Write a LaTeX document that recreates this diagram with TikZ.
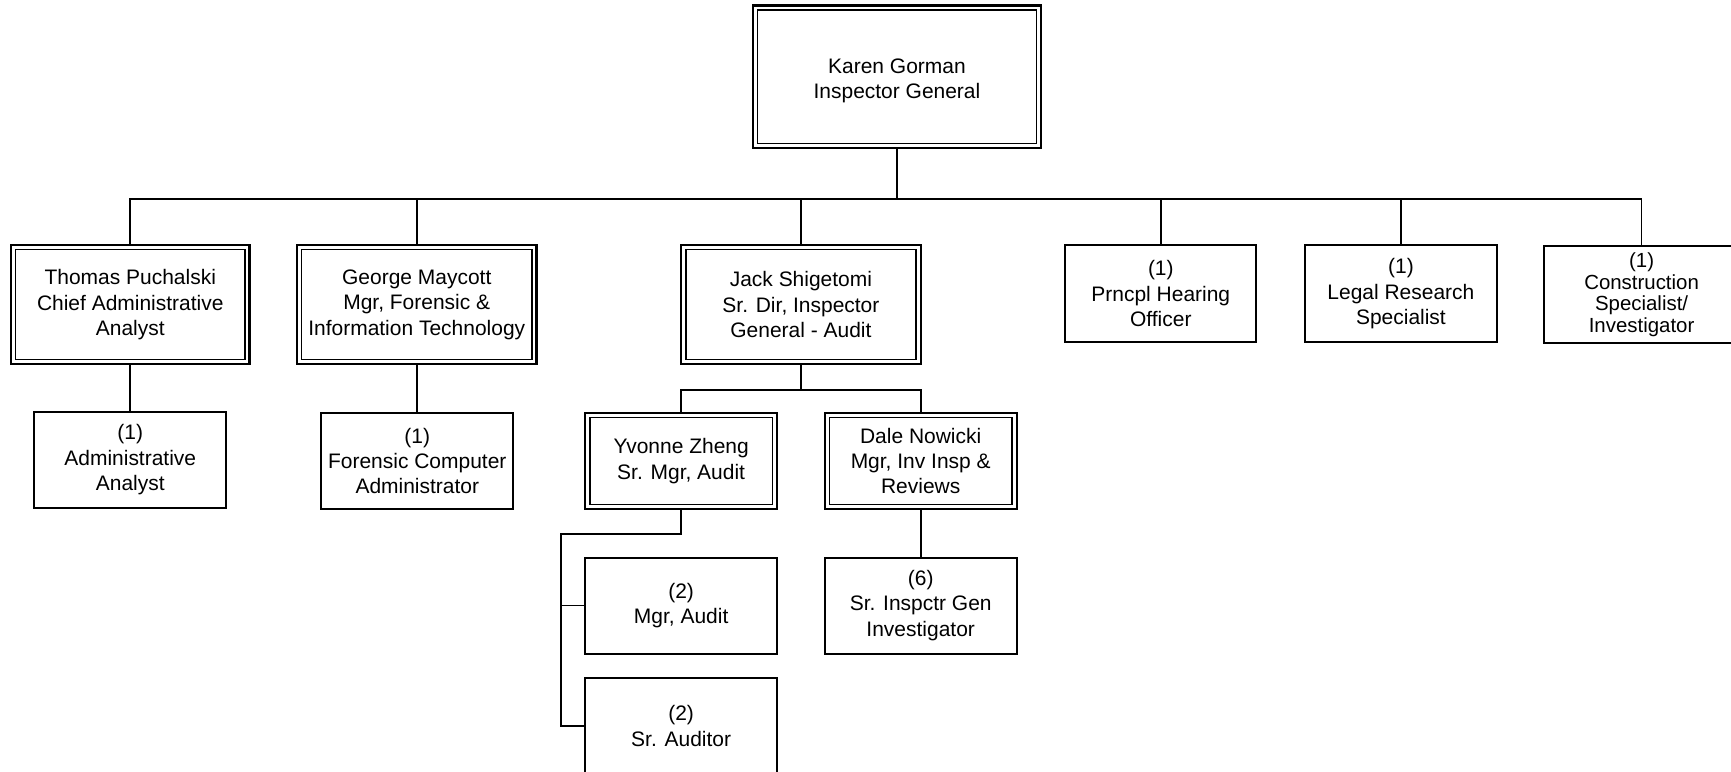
\documentclass[tikz,border=0pt]{standalone}
\usepackage{fontspec}
\setmainfont{Liberation Sans}
\begin{document}
\begin{tikzpicture}[x=1pt,y=-1pt,
  every node/.style={font=\fontsize{19}{23}\selectfont, align=center, inner sep=0pt, outer sep=0pt},
  sbox/.style={draw, line width=1.8pt, rectangle},
  dbox/.style={draw, line width=2.0pt, rectangle},
  innerline/.style={line width=1.4pt},
  conn/.style={line width=1.6pt}]
\useasboundingbox (0,0) rectangle (1568,699.3);
% nodes
\node[dbox, minimum width=261pt, minimum height=129pt] (karen) at (812.5,69.5) {};
\node[yshift=-3.5pt] (karentext) at (karen.center) {Karen Gorman\\Inspector General};
\node[dbox, minimum width=216pt, minimum height=108pt] (thomas) at (118,276) {Thomas Puchalski\\Chief Administrative\\Analyst};
\node[dbox, minimum width=217pt, minimum height=108pt] (george) at (377.5,276) {George Maycott\\Mgr, Forensic \&\\Information Technology};
\node[dbox, minimum width=217pt, minimum height=108pt] (jack) at (725.5,276) {Jack Shigetomi\\Sr. Dir, Inspector\\General - Audit};
\node[sbox, minimum width=173pt, minimum height=88pt] (prncpl) at (1051.5,266) {(1)\\Prncpl Hearing\\Officer};
\node[sbox, minimum width=174pt, minimum height=88pt] (legal) at (1269,266) {(1)\\Legal Research\\Specialist};
\node[sbox, minimum width=176pt, minimum height=88pt, font=\fontsize{18.5}{19.4}\selectfont] (constr) at (1487,267) {(1)\\Construction\\Specialist/\\Investigator};
\node[sbox, minimum width=174pt, minimum height=87pt] (adman) at (118,416.5) {(1)\\Administrative\\Analyst};
\node[sbox, minimum width=174pt, minimum height=87pt] (forcomp) at (378,417.5) {(1)\\Forensic Computer\\Administrator};
\node[dbox, minimum width=174pt, minimum height=87pt] (yvonne) at (617,417.5) {Yvonne Zheng\\Sr. Mgr, Audit};
\node[dbox, minimum width=174pt, minimum height=87pt] (dale) at (834,417.5) {Dale Nowicki\\Mgr, Inv Insp \&\\Reviews};
\node[sbox, minimum width=174pt, minimum height=87pt] (mgraud) at (617,548.5) {(2)\\Mgr, Audit};
\node[sbox, minimum width=174pt, minimum height=87pt] (sraud) at (617,657.5) {(2)\\Sr. Auditor};
\node[sbox, minimum width=174pt, minimum height=87pt] (srinsp) at (834,548.5) {(6)\\Sr. Inspctr Gen\\Investigator};
% inner lines of double boxes
\foreach \n in {karen,thomas,george,jack,yvonne,dale}
  \draw[innerline] ([shift={(4.2,4.2)}]\n.north west) rectangle ([shift={(-4.2,-4.2)}]\n.south east);
% connectors
\coordinate (bus) at (0,180);
\coordinate (jsub) at (725.5,353.5);
\coordinate (yv) at (508,484);
\draw[conn] (karen.south) -- (karen.south |- bus);
\draw[conn] (thomas.north) |- (bus -| constr.north) -- (constr.north);
\foreach \n in {george,jack,prncpl,legal}
  \draw[conn] (\n.north) -- (\n.north |- bus);
\draw[conn] (thomas.south) -- (adman.north);
\draw[conn] (george.south) -- (george.south |- forcomp.north);
\draw[conn] (jack.south) -- (jsub);
\draw[conn] (yvonne.north) |- (jsub) -| (dale.north);
\draw[conn] (yvonne.south) |- (yv) |- (sraud.west);
\draw[conn] (mgraud.west) -- (mgraud.west -| yv);
\draw[conn] (dale.south) -- (srinsp.north);
\end{tikzpicture}
\end{document}
